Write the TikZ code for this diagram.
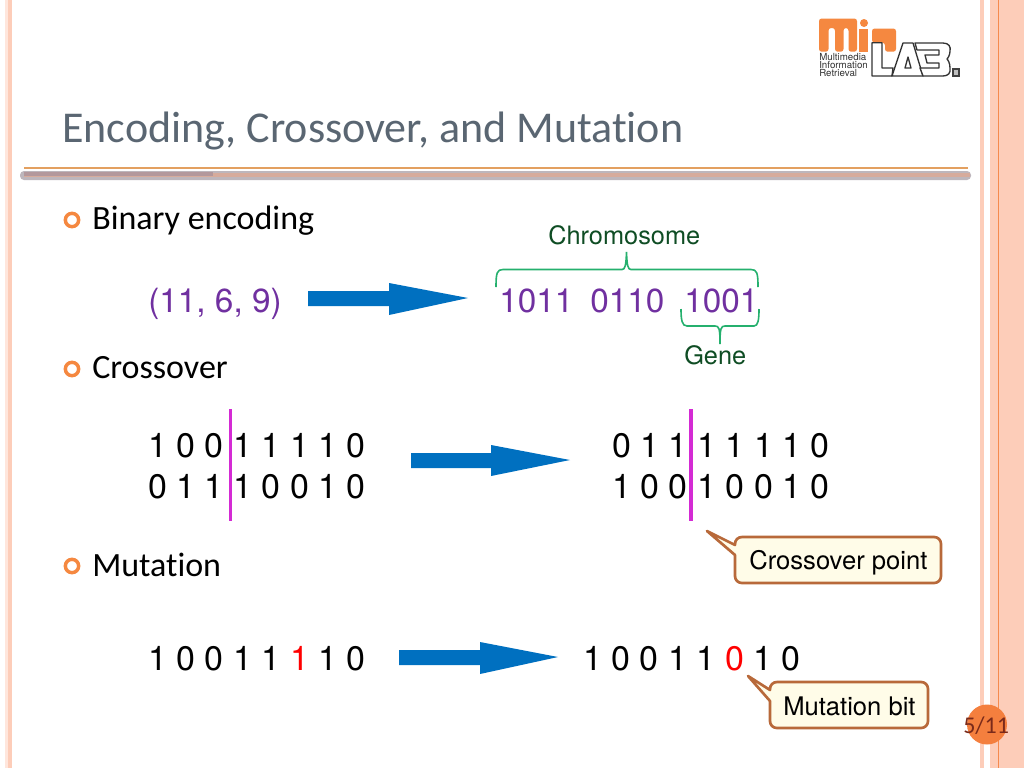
\documentclass[tikz,border=0pt]{standalone}
\usepackage{fontspec}
\setmainfont{TeX Gyre Heros}
\newfontfamily\carlito[Ligatures=NoCommon]{Carlito}
\definecolor{stripe}{HTML}{FDCDB9}
\definecolor{stripelight}{HTML}{FFE6DC}
\definecolor{stripeline}{HTML}{F58A4E}
\definecolor{titlecol}{HTML}{5A6672}
\definecolor{purp}{HTML}{7030A0}
\definecolor{bluearrow}{HTML}{0070C0}
\definecolor{bracegreen}{HTML}{25B06E}
\definecolor{darkgreen}{HTML}{0F4D24}
\definecolor{magentaline}{HTML}{D42AD4}
\definecolor{callfill}{HTML}{FFFCE8}
\definecolor{calldraw}{HTML}{B8693A}
\definecolor{orangeb}{HTML}{F58840}
\definecolor{pagecirc}{HTML}{F47F3E}
\definecolor{pagetext}{HTML}{7A2A1A}
\definecolor{barhalo}{HTML}{BDB6BC}
\definecolor{barcore}{HTML}{D6AB9C}
\definecolor{barleft}{HTML}{B3989C}
\definecolor{ruletop}{HTML}{E3A060}
\tikzset{
  px/.style={x=0.75pt,y=-0.75pt},
  titletext/.style={anchor=base west,inner sep=0pt,font=\carlito\fontsize{33}{33}\selectfont,text=titlecol},
  bullettext/.style={anchor=base west,inner sep=0pt,font=\carlito\fontsize{25.5}{25.5}\selectfont,text=black},
  bulletdot/.style={circle,draw=orangeb,line width=2.6pt,minimum size=10pt,inner sep=0pt,fill=white},
  purptext/.style={anchor=base west,inner sep=0pt,font=\fontsize{25}{25}\selectfont,text=purp},
  bits/.style={anchor=base west,inner sep=0pt,font=\fontsize{25.5}{25.5}\selectfont,text=black},
  smallgreen/.style={anchor=base west,inner sep=0pt,font=\fontsize{19}{19}\selectfont,text=darkgreen},
  calltext/.style={anchor=base west,inner sep=0pt,font=\fontsize{19.2}{19.2}\selectfont,text=black},
  callshape/.style={fill=callfill,draw=calldraw,line width=2pt,line join=round},
  blockarrow/.style={fill=bluearrow,draw=none},
  bracepath/.style={draw=bracegreen,line width=1.2pt},
  cutline/.style={draw=magentaline,line width=2.3pt},
  logotext/.style={anchor=base west,inner sep=0pt,font=\fontsize{7.3}{7.3}\selectfont,text=black!80},
  logooutline/.style={draw=black!80,line width=1pt,line join=round,fill=white},
}
\begin{document}
\begin{tikzpicture}[px]
\useasboundingbox (0,0) rectangle (1024,768);
\fill[white] (0,0) rectangle (1024,768);
% side stripes
\fill[stripelight] (5,0) rectangle (8,768);
\fill[stripe] (8,0) rectangle (12,768);
\fill[stripe] (979.5,0) rectangle (984,768);
\fill[stripe] (990,0) rectangle (1024,768);
\fill[stripeline] (998,0) rectangle (999,768);
% logo
\fill[orangeb,rounded corners=2pt] (819,18.5) -- (857,18.5) -- (857,51.7) -- (848.5,51.7) -- (848.5,28) -- (843.5,28) -- (843.5,51.7) -- (835,51.7) -- (835,28) -- (828.5,28) -- (828.5,51.7) -- (819,51.7) -- cycle;
\fill[orangeb] (859,28.5) rectangle (868,51.7);
\fill[orangeb] (864,23) circle (4);
\fill[orangeb,rounded corners=2pt] (872,28.5) -- (896,28.5) -- (896,51.7) -- (885,51.7) -- (885,42.7) -- (872,42.7) -- cycle;
\draw[logooutline] (872,42.7) -- (882,42.7) -- (882,68) -- (893,68) -- (892,76) -- (872,76) -- cycle;
\draw[logooutline] (892,76) -- (903,43) -- (913,43) -- (923,76) -- cycle;
\draw[black!80,line width=1pt,line join=round] (905,68) -- (908,57) -- (911,68) -- cycle;
\draw[logooutline] (915,43) -- (943,43) .. controls (949,43) and (951,47) .. (950,51) .. controls (950,55) and (948,58) .. (947,59) .. controls (948,60) and (950,63) .. (950,68) .. controls (951,73) and (948,76) .. (943,76) -- (923,76) -- (920,68) -- (939,68) -- (939,63) -- (927,63) -- (925,55) -- (939,55) -- (939,50) -- (917,50) -- cycle;
\fill[black!75] (952,68.3) rectangle (960,76.7);
\fill[black!25] (954,70.3) rectangle (958,74.7);
\node[logotext] (logoa) at (819,60) {Multimedia};
\node[logotext] (logob) at (819,68) {Information};
\node[logotext] (logoc) at (819,76) {Retrieval};
% title
\node[titletext] (title) at (62,142) {Encoding, Crossover, and Mutation};
% rules
\fill[ruletop] (24,167) rectangle (968,169);
\fill[barhalo,rounded corners=3pt] (20,171) rectangle (971,180);
\fill[barcore] (24,172.5) rectangle (970,177);
\fill[barleft] (24,172) rectangle (213,175.5);
% bullets
\node[bulletdot] (b1) at (72,220) {};
\node[bullettext] (t1) at (92,229) {Binary encoding};
\node[bulletdot] (b2) at (72,369) {};
\node[bullettext] (t2) at (92,378) {Crossover};
\node[bulletdot] (b3) at (72,566) {};
\node[bullettext] (t3) at (92,576) {Mutation};
% encoding row
\node[purptext] (tuple) at (148,312) {(11, 6, 9)};
\node[purptext] (g1) at (499,312) {1011};
\node[purptext] (g2) at (590,312) {0110};
\node[purptext] (g3) at (684,312) {1001};
\fill[blockarrow] (308,291) -- (389,291) -- (389,283) -- (468,298) -- (389,315) -- (389,306) -- (308,306) -- cycle;
\node[smallgreen] (chrom) at (548,244) {Chromosome};
\node[smallgreen] (gene) at (684,364) {Gene};
\draw[bracepath] (496,287) .. controls (496,273) and (497,269.5) .. (503,269.5) -- (622,269.5) .. controls (625,269.5) and (626,266) .. (626.5,252) .. controls (627,266) and (628,269.5) .. (631,269.5) -- (751,269.5) .. controls (757,269.5) and (758,273) .. (758,287);
\draw[bracepath] (681,309) .. controls (681,320) and (682,326) .. (687,326) -- (715,326) .. controls (719,326) and (720,328) .. (720,344) .. controls (720,328) and (721,326) .. (725,326) -- (754,326) .. controls (758,326) and (759,320) .. (759,309);
% crossover
\node[bits] (c1) at (148,457) {1 0 0 1 1 1 1 0};
\node[bits] (c2) at (148,498) {0 1 1 1 0 0 1 0};
\node[bits] (c3) at (612,457) {0 1 1 1 1 1 1 0};
\node[bits] (c4) at (612,498) {1 0 0 1 0 0 1 0};
\draw[cutline] (230.5,409) -- (230.5,521);
\draw[cutline] (691,409) -- (691,521);
\fill[blockarrow] (411,453) -- (491,453) -- (491,445) -- (570,460) -- (491,476) -- (491,468) -- (411,468) -- cycle;
% mutation
\node[bits] (m1) at (148,670) {1 0 0 1 1 \textcolor{red}{1} 1 0};
\node[bits] (m2) at (583,670) {1 0 0 1 1 \textcolor{red}{0} 1 0};
\fill[blockarrow] (399,650) -- (480,650) -- (480,642) -- (558,657) -- (480,674) -- (480,665) -- (399,665) -- cycle;
% callouts
\draw[callshape] (707,531) -- (735,545) -- (735,544) .. controls (735,540) and (738,537) .. (742,537) -- (934,537) .. controls (938,537) and (941,540) .. (941,544) -- (941,576) .. controls (941,580) and (938,583) .. (934,583) -- (742,583) .. controls (738,583) and (735,580) .. (735,576) -- (735,555) -- cycle;
\node[calltext] (cp) at (749,569) {Crossover point};
\draw[callshape] (748,676) -- (770,690) -- (770,689) .. controls (770,685) and (773,682) .. (777,682) -- (921,682) .. controls (925,682) and (928,685) .. (928,689) -- (928,721) .. controls (928,725) and (925,728) .. (921,728) -- (777,728) .. controls (773,728) and (770,725) .. (770,721) -- (770,701) -- cycle;
\node[calltext] (mb) at (783,715) {Mutation bit};
% page number
\fill[pagecirc] (987,724.5) circle (20);
\node[anchor=base west,inner sep=0pt,font=\carlito\fontsize{18}{18}\selectfont,text=pagetext] (page) at (963,733) {5/11};
\end{tikzpicture}
\end{document}
